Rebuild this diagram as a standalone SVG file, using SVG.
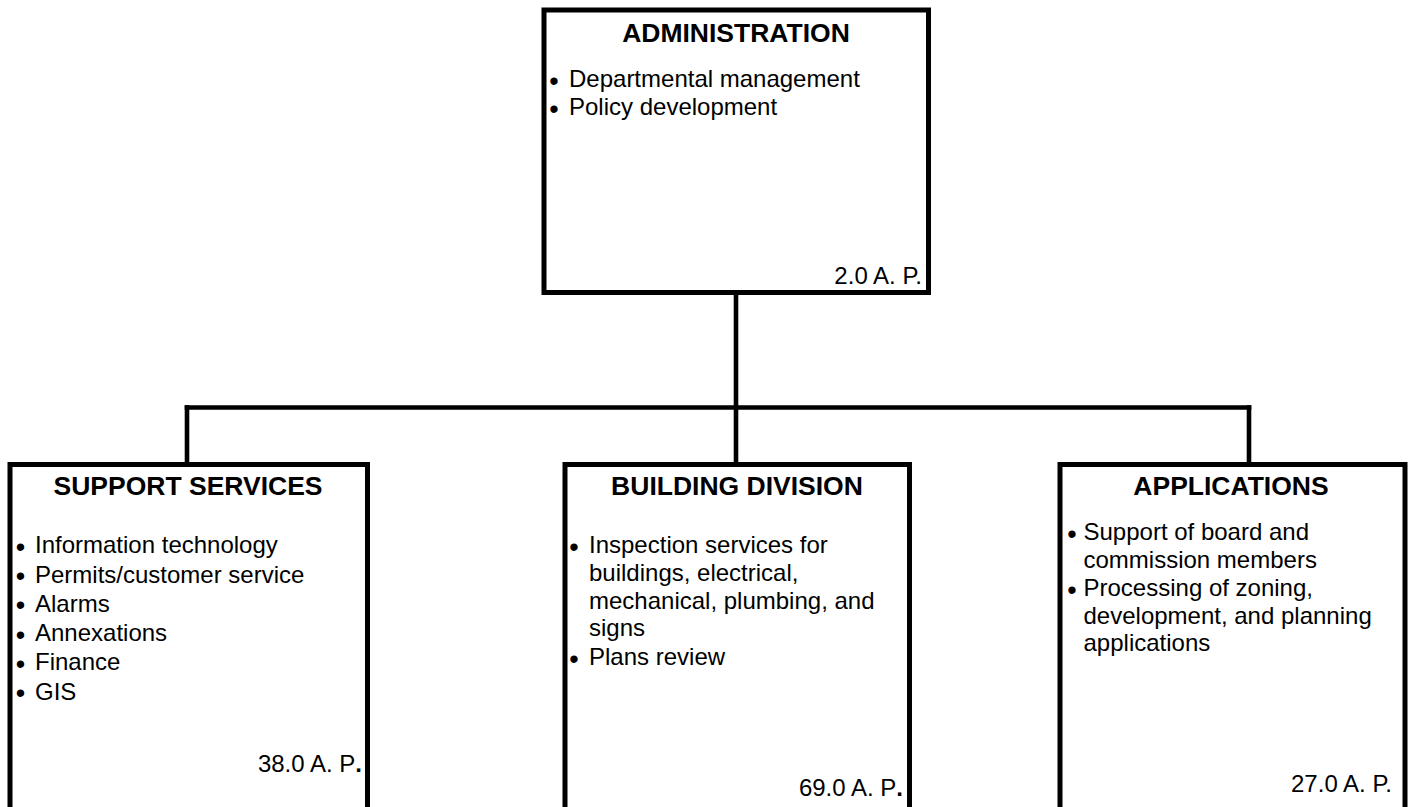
<svg xmlns="http://www.w3.org/2000/svg" width="1411" height="807" viewBox="0 0 1411 807">
  <style>
    .box { fill: #ffffff; stroke: #000000; stroke-width: 5; }
    .link { fill: none; stroke: #000000; stroke-width: 4.6; stroke-linecap: square; }
    text { font-family: "Liberation Sans", Arial, sans-serif; fill: #000000; }
    .title { font-size: 26.5px; font-weight: bold; text-anchor: middle; }
    .item { font-size: 24px; }
    .dot { font-size: 27px; text-anchor: middle; }
    .fte { font-size: 24px; text-anchor: end; }
  </style>
  <rect width="1411" height="807" fill="#ffffff"/>

  <!-- reporting lines -->
  <g id="connectors">
    <path class="link" d="M736 295 V462"/>
    <path class="link" d="M187 407.5 H1249"/>
    <path class="link" d="M187 407.5 V462"/>
    <path class="link" d="M1249 407.5 V462"/>
  </g>

  <g id="administration">
    <rect class="box" x="544" y="10" width="384.5" height="282.5"/>
    <text class="title" x="736" y="42">ADMINISTRATION</text>
    <text class="dot" x="554" y="89.5">•</text>
    <text class="item" x="569" y="87">Departmental management</text>
    <text class="dot" x="554" y="117.5">•</text>
    <text class="item" x="569" y="115">Policy development</text>
    <text class="fte" x="922" y="284">2.0 A. P.</text>
  </g>

  <g id="support-services">
    <rect class="box" x="10" y="464.5" width="357.5" height="360"/>
    <text class="title" x="188" y="495">SUPPORT SERVICES</text>
    <text class="dot" x="20.5" y="555.5">•</text>
    <text class="item" x="35" y="553">Information technology</text>
    <text class="dot" x="20.5" y="585">•</text>
    <text class="item" x="35" y="582.5">Permits/customer service</text>
    <text class="dot" x="20.5" y="614">•</text>
    <text class="item" x="35" y="611.5">Alarms</text>
    <text class="dot" x="20.5" y="643.5">•</text>
    <text class="item" x="35" y="641">Annexations</text>
    <text class="dot" x="20.5" y="672.5">•</text>
    <text class="item" x="35" y="670">Finance</text>
    <text class="dot" x="20.5" y="702">•</text>
    <text class="item" x="35" y="699.5">GIS</text>
    <text class="fte" x="362" y="772">38.0 A. P<tspan font-weight="bold">.</tspan></text>
  </g>

  <g id="building-division">
    <rect class="box" x="565" y="464.5" width="344.5" height="360"/>
    <text class="title" x="737" y="495">BUILDING DIVISION</text>
    <text class="dot" x="574" y="555.5">•</text>
    <text class="item" x="589" y="553">Inspection services for</text>
    <text class="item" x="589" y="581">buildings, electrical,</text>
    <text class="item" x="589" y="608.5">mechanical, plumbing, and</text>
    <text class="item" x="589" y="635.5">signs</text>
    <text class="dot" x="574" y="667.5">•</text>
    <text class="item" x="589" y="665">Plans review</text>
    <text class="fte" x="903" y="796">69.0 A. P<tspan font-weight="bold">.</tspan></text>
  </g>

  <g id="applications">
    <rect class="box" x="1060" y="464.5" width="345" height="360"/>
    <text class="title" x="1231" y="495">APPLICATIONS</text>
    <text class="dot" x="1072" y="542.5">•</text>
    <text class="item" x="1083.5" y="540">Support of board and</text>
    <text class="item" x="1083.5" y="568">commission members</text>
    <text class="dot" x="1072" y="598.5">•</text>
    <text class="item" x="1083.5" y="596">Processing of zoning,</text>
    <text class="item" x="1083.5" y="623.5">development, and planning</text>
    <text class="item" x="1083.5" y="651">applications</text>
    <text class="fte" x="1392" y="792">27.0 A. P.</text>
  </g>
</svg>
